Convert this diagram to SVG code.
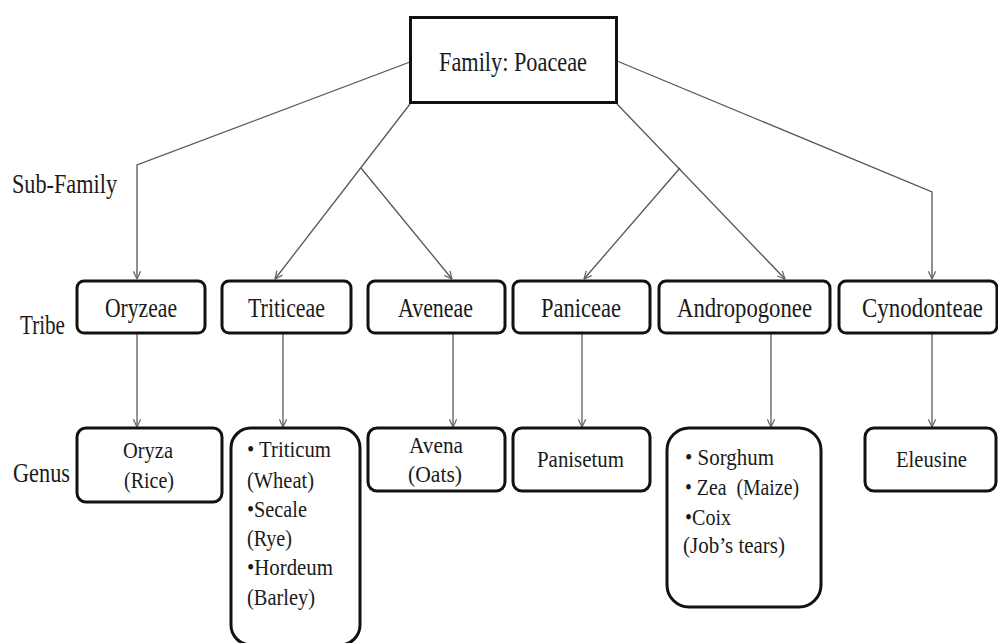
<svg xmlns="http://www.w3.org/2000/svg" width="998" height="643" viewBox="0 0 998 643">
<defs>
<marker id="arr" viewBox="0 0 10 10" refX="9.5" refY="5" markerWidth="9" markerHeight="9" markerUnits="userSpaceOnUse" orient="auto">
<path d="M1,1 L9.5,5 L1,9" fill="none" stroke="#666" stroke-width="1.4"/>
</marker>
<style>
.box{fill:#fff;stroke:#111;stroke-width:3}
.t{font-family:"Liberation Serif","Times New Roman",Times,serif;fill:#1a1a1a;font-size:27px}
.g{font-family:"Liberation Serif","Times New Roman",Times,serif;fill:#1a1a1a;font-size:23px}
.c{fill:none;stroke:#555;stroke-width:1.3}
.v{fill:none;stroke:#8a8a8a;stroke-width:1.8}
</style>
</defs>
<rect width="998" height="643" fill="#fff"/>
<g id="connectors">
<polyline class="c" points="410,62 137,165 137,279" marker-end="url(#arr)"/>
<line class="c" x1="410" y1="104" x2="275" y2="279" marker-end="url(#arr)"/>
<line class="c" x1="361" y1="168" x2="452" y2="279" marker-end="url(#arr)"/>
<line class="c" x1="617" y1="104" x2="785" y2="279" marker-end="url(#arr)"/>
<line class="c" x1="680" y1="168" x2="584" y2="279" marker-end="url(#arr)"/>
<polyline class="c" points="617,61 932,192 932,279" marker-end="url(#arr)"/>
<line class="v" x1="137" y1="334" x2="137" y2="427" marker-end="url(#arr)"/>
<line class="v" x1="283" y1="334" x2="283" y2="427" marker-end="url(#arr)"/>
<line class="v" x1="453" y1="334" x2="453" y2="427" marker-end="url(#arr)"/>
<line class="v" x1="582" y1="334" x2="582" y2="427" marker-end="url(#arr)"/>
<line class="v" x1="771" y1="334" x2="771" y2="427" marker-end="url(#arr)"/>
<line class="v" x1="932" y1="334" x2="932" y2="427" marker-end="url(#arr)"/>
</g>
<g id="family">
<rect class="box" x="410.5" y="17.5" width="206" height="85"/>
<text class="t" x="439" y="71" textLength="148" lengthAdjust="spacingAndGlyphs">Family: Poaceae</text>
</g>
<g id="labels">
<text class="t" x="12" y="193" textLength="105" lengthAdjust="spacingAndGlyphs">Sub-Family</text>
<text class="t" x="20" y="334" textLength="45" lengthAdjust="spacingAndGlyphs">Tribe</text>
<text class="t" x="13" y="482" textLength="57" lengthAdjust="spacingAndGlyphs" font-size="24">Genus</text>
</g>
<g id="oryzeae">
<rect class="box" x="77" y="281" width="128" height="52" rx="7"/>
<text class="t" x="105" y="317" textLength="72" lengthAdjust="spacingAndGlyphs">Oryzeae</text>
</g>
<g id="triticeae">
<rect class="box" x="222" y="281" width="129" height="52" rx="7"/>
<text class="t" x="248" y="317" textLength="77" lengthAdjust="spacingAndGlyphs">Triticeae</text>
</g>
<g id="aveneae">
<rect class="box" x="368" y="281" width="137" height="52" rx="7"/>
<text class="t" x="398" y="317" textLength="75" lengthAdjust="spacingAndGlyphs">Aveneae</text>
</g>
<g id="paniceae">
<rect class="box" x="513" y="281" width="137" height="52" rx="7"/>
<text class="t" x="541" y="317" textLength="80" lengthAdjust="spacingAndGlyphs">Paniceae</text>
</g>
<g id="andropogonee">
<rect class="box" x="659" y="281" width="171" height="52" rx="7"/>
<text class="t" x="677" y="317" textLength="135" lengthAdjust="spacingAndGlyphs">Andropogonee</text>
</g>
<g id="cynodonteae">
<rect class="box" x="839" y="281" width="158" height="52" rx="7"/>
<text class="t" x="862" y="317" textLength="121" lengthAdjust="spacingAndGlyphs" font-size="23">Cynodonteae</text>
</g>
<g id="oryza">
<rect class="box" x="77" y="428" width="145" height="74" rx="9"/>
<text class="g" x="123" y="458" textLength="50" lengthAdjust="spacingAndGlyphs">Oryza</text>
<text class="g" x="124" y="488" textLength="50" lengthAdjust="spacingAndGlyphs">(Rice)</text>
</g>
<g id="triticeae-genus">
<rect class="box" x="231" y="428" width="129" height="217" rx="20"/>
<text class="g" x="247" y="457" textLength="84" lengthAdjust="spacingAndGlyphs">• Triticum</text>
<text class="g" x="247" y="488" textLength="67" lengthAdjust="spacingAndGlyphs">(Wheat)</text>
<text class="g" x="247" y="517" textLength="60" lengthAdjust="spacingAndGlyphs">•Secale</text>
<text class="g" x="247" y="546" textLength="45" lengthAdjust="spacingAndGlyphs">(Rye)</text>
<text class="g" x="247" y="575" textLength="86" lengthAdjust="spacingAndGlyphs">•Hordeum</text>
<text class="g" x="247" y="605" textLength="68" lengthAdjust="spacingAndGlyphs">(Barley)</text>
</g>
<g id="avena">
<rect class="box" x="368" y="428" width="137" height="63" rx="9"/>
<text class="g" x="409" y="453" textLength="54" lengthAdjust="spacingAndGlyphs">Avena</text>
<text class="g" x="408" y="482" textLength="54" lengthAdjust="spacingAndGlyphs">(Oats)</text>
</g>
<g id="panisetum">
<rect class="box" x="513" y="428" width="137" height="63" rx="9"/>
<text class="g" x="537" y="467" textLength="87" lengthAdjust="spacingAndGlyphs">Panisetum</text>
</g>
<g id="andropogonee-genus">
<rect class="box" x="667" y="428" width="154" height="179" rx="22"/>
<text class="g" x="685" y="465" textLength="89" lengthAdjust="spacingAndGlyphs">• Sorghum</text>
<text class="g" x="685" y="495" textLength="114" lengthAdjust="spacingAndGlyphs" xml:space="preserve">• Zea  (Maize)</text>
<text class="g" x="685" y="525" textLength="46" lengthAdjust="spacingAndGlyphs">•Coix</text>
<text class="g" x="683" y="553" textLength="102" lengthAdjust="spacingAndGlyphs">(Job’s tears)</text>
</g>
<g id="eleusine">
<rect class="box" x="865" y="428" width="131" height="63" rx="9"/>
<text class="g" x="896" y="467" textLength="71" lengthAdjust="spacingAndGlyphs">Eleusine</text>
</g>
</svg>
